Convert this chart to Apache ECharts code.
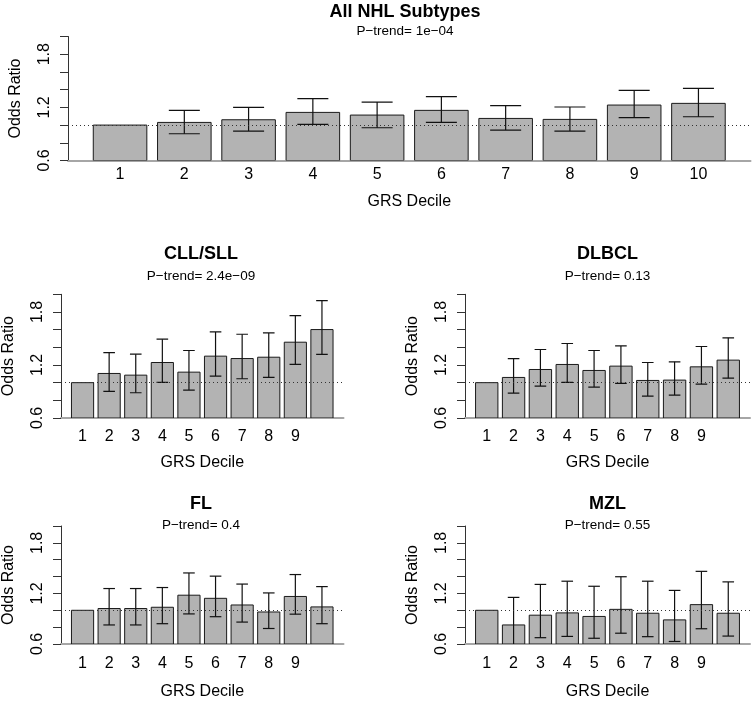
<!DOCTYPE html>
<html><head><meta charset="utf-8">
<script src="https://cdn.jsdelivr.net/npm/echarts@6/dist/echarts.min.js"></script>
<style>html,body{margin:0;padding:0;background:#fff}#c{width:752px;height:701px}</style>
</head><body><div id="c"></div>
<script>
// ---- data ----
const deciles = [1, 2, 3, 4, 5, 6, 7, 8, 9, 10];
const yTickLabels = [0.6, 1.2, 1.8];
const yTicks = [0.6, 0.8, 1.0, 1.2, 1.4, 1.6, 1.8, 2.0];
const xLabelsTop = [1, 2, 3, 4, 5, 6, 7, 8, 9, 10];
const xLabelsSub = [1, 2, 3, 4, 5, 6, 7, 8, 9];

const allOR = [1.0, 1.030, 1.060, 1.143, 1.113, 1.166, 1.075, 1.064, 1.226, 1.245];
const allLo = [null, 0.902, 0.932, 1.008, 0.970, 1.030, 0.943, 0.932, 1.083, 1.094];
const allHi = [null, 1.166, 1.200, 1.298, 1.260, 1.321, 1.219, 1.204, 1.392, 1.415];

const cllOR = [1.0, 1.104, 1.085, 1.228, 1.119, 1.300, 1.273, 1.288, 1.458, 1.601];
const cllLo = [null, 0.901, 0.886, 1.003, 0.916, 1.074, 1.044, 1.059, 1.206, 1.319];
const cllHi = [null, 1.341, 1.322, 1.492, 1.364, 1.574, 1.548, 1.563, 1.759, 1.928];

const dlbclOR = [1.0, 1.059, 1.149, 1.206, 1.138, 1.187, 1.025, 1.029, 1.179, 1.255];
const dlbclLo = [null, 0.882, 0.961, 1.003, 0.950, 0.991, 0.848, 0.860, 0.984, 1.051];
const dlbclHi = [null, 1.273, 1.375, 1.443, 1.364, 1.416, 1.228, 1.236, 1.409, 1.507];

const flOR = [1.0, 1.021, 1.021, 1.036, 1.179, 1.142, 1.063, 0.980, 1.164, 1.040];
const flLo = [null, 0.826, 0.826, 0.841, 0.957, 0.924, 0.860, 0.784, 0.954, 0.841];
const flHi = [null, 1.258, 1.258, 1.270, 1.443, 1.405, 1.311, 1.206, 1.424, 1.281];

const mzlOR = [1.0, 0.826, 0.942, 0.969, 0.927, 1.011, 0.965, 0.886, 1.067, 0.965];
const mzlLo = [null, 0.580, 0.675, 0.690, 0.668, 0.728, 0.687, 0.630, 0.781, 0.694];
const mzlHi = [null, 1.153, 1.307, 1.345, 1.285, 1.398, 1.345, 1.236, 1.462, 1.337];

const titles = ['All NHL Subtypes', 'CLL/SLL', 'DLBCL', 'FL', 'MZL'];
const subtitles = ['P\u2212trend= 1e\u221204', 'P\u2212trend= 2.4e\u221209', 'P\u2212trend= 0.13', 'P\u2212trend= 0.4', 'P\u2212trend= 0.55'];
const xTitle = 'GRS Decile';
const yTitle = 'Odds Ratio';

// ---- layout ----
const FONT = '"Liberation Sans", Arial, Helvetica, sans-serif';
const panels = [
  {or: allOR, lo: allLo, hi: allHi, labels: xLabelsTop, grid: {left: 59.5, top: 36.5, width: 691, height: 124}, cap: 15.5, titleTop: 3, subTop: 24, xMargin: 6, xGap: 33},
  {or: cllOR, lo: cllLo, hi: cllHi, labels: xLabelsSub, grid: {left: 58.5, top: 294.3, width: 285, height: 123.7}, cap: 5.8, titleTop: 245.3, subTop: 269, xMargin: 11, xGap: 37},
  {or: dlbclOR, lo: dlbclLo, hi: dlbclHi, labels: xLabelsSub, grid: {left: 465, top: 294.3, width: 285, height: 123.7}, cap: 5.8, titleTop: 245.3, subTop: 269, xMargin: 11, xGap: 37},
  {or: flOR, lo: flLo, hi: flHi, labels: xLabelsSub, grid: {left: 58.5, top: 526, width: 285, height: 123.7}, cap: 5.8, titleTop: 495.3, subTop: 518.7, xMargin: 12, xGap: 40},
  {or: mzlOR, lo: mzlLo, hi: mzlHi, labels: xLabelsSub, grid: {left: 465, top: 526, width: 285, height: 123.7}, cap: 5.8, titleTop: 495.3, subTop: 518.7, xMargin: 12, xGap: 40}
];

const X_MIN = 0.19, X_MAX = 10.81, BAR_W = 1 / 1.2;
const option = {animation: false, backgroundColor: '#fff', title: [], grid: [], xAxis: [], yAxis: [], series: []};

panels.forEach((p, i) => {
  const cx = p.grid.left + p.grid.width / 2;
  option.title.push({text: titles[i], left: cx, top: p.titleTop, textAlign: 'center', padding: 0,
    textStyle: {fontFamily: FONT, fontSize: 18, fontWeight: 'bold', color: '#000'}});
  option.title.push({text: subtitles[i], left: cx, top: p.subTop, textAlign: 'center', padding: 0,
    textStyle: {fontFamily: FONT, fontSize: 13.5, fontWeight: 'normal', color: '#000'}});
  option.grid.push({left: p.grid.left, top: p.grid.top, width: p.grid.width, height: p.grid.height, containLabel: false});
  option.xAxis.push({type: 'value', gridIndex: i, min: X_MIN, max: X_MAX,
    name: xTitle, nameLocation: 'middle', nameGap: p.xGap,
    nameTextStyle: {fontFamily: FONT, fontSize: 16, color: '#000'},
    axisLine: {show: true, onZero: false, lineStyle: {color: '#a6a6a6', width: 2}},
    axisTick: {show: false}, splitLine: {show: false},
    axisLabel: {show: true, customValues: p.labels, margin: p.xMargin, fontFamily: FONT, fontSize: 16, color: '#000', formatter: v => String(Math.round(v))}
  });
  option.yAxis.push({type: 'value', gridIndex: i, min: 0.6, max: 2.0, interval: 0.2,
    name: yTitle, nameLocation: 'middle', nameGap: 44, nameRotate: 90,
    nameTextStyle: {fontFamily: FONT, fontSize: 16, color: '#000'},
    axisLine: {show: true, lineStyle: {color: '#333', width: 1}},
    axisTick: {show: true, length: 8, customValues: yTicks, lineStyle: {color: '#333', width: 1}},
    splitLine: {show: false},
    axisLabel: {show: true, rotate: 90, margin: 15, customValues: yTickLabels, fontFamily: FONT, fontSize: 16, color: '#000', formatter: v => v.toFixed(1)}
  });
  // bars
  option.series.push({type: 'custom', xAxisIndex: i, yAxisIndex: i, clip: true, z: 2,
    data: deciles.map((d, k) => [d, p.or[k]]),
    renderItem: (params, api) => {
      const x = api.value(0), v = api.value(1);
      const a = api.coord([x - BAR_W / 2, v]);
      const b = api.coord([x + BAR_W / 2, 0.6]);
      return {type: 'rect', shape: {x: a[0], y: a[1], width: b[0] - a[0], height: b[1] - a[1]},
        style: {fill: '#b3b3b3', stroke: '#1a1a1a', lineWidth: 1}};
    },
    markLine: {silent: true, symbol: ['none', 'none'], label: {show: false},
      lineStyle: {type: [1, 3], color: '#333', width: 1}, data: [{yAxis: 1}], z: 5}
  });
  // error bars
  const eb = [];
  deciles.forEach((d, k) => { if (p.lo[k] != null) eb.push([d, p.lo[k], p.hi[k]]); });
  const cap = p.cap;
  option.series.push({type: 'custom', xAxisIndex: i, yAxisIndex: i, clip: true, z: 4,
    data: eb,
    renderItem: (params, api) => {
      const x = api.value(0);
      const lo = api.coord([x, api.value(1)]);
      const hi = api.coord([x, api.value(2)]);
      const st = {stroke: '#111', lineWidth: 1.2};
      return {type: 'group', children: [
        {type: 'line', shape: {x1: lo[0], y1: lo[1], x2: hi[0], y2: hi[1]}, style: st},
        {type: 'line', shape: {x1: hi[0] - cap, y1: hi[1], x2: hi[0] + cap, y2: hi[1]}, style: st},
        {type: 'line', shape: {x1: lo[0] - cap, y1: lo[1], x2: lo[0] + cap, y2: lo[1]}, style: st}
      ]};
    }
  });
});

const chart = echarts.init(document.getElementById('c'), null, {renderer: 'canvas'});
chart.setOption(option);
</script>
</body></html>
